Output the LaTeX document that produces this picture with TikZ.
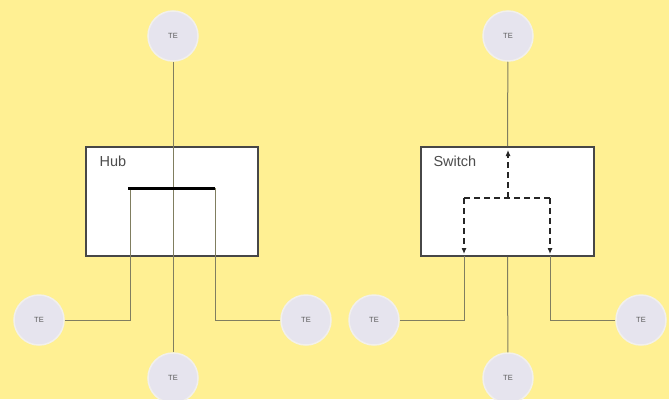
\documentclass[tikz,border=0pt]{standalone}
\usepackage{fontspec}
\setmainfont{Liberation Sans}
\usetikzlibrary{arrows.meta}
\definecolor{bg}{HTML}{FFF093}
\definecolor{tefill}{HTML}{E6E4EE}
\definecolor{teline}{HTML}{F2F0EC}
\definecolor{wire}{HTML}{807E60}
\tikzset{
  te/.style={circle,minimum size=50pt,inner sep=0pt,fill=tefill,draw=teline,line width=1.5pt,font=\fontsize{7.5}{7.5}\selectfont,text=black!65},
  devbox/.style={draw=black!72,line width=1.6pt,fill=white},
  wireline/.style={draw=wire,line width=1pt},
  flow/.style={draw=black!85,line width=1.1pt,dash pattern=on 6pt off 4pt,-{Latex[length=6pt,width=5pt]}},
  flowline/.style={draw=black!85,line width=1.1pt,dash pattern=on 6pt off 4pt},
  lbl/.style={anchor=west,font=\fontsize{14.5}{14.5}\selectfont,text=black!70}
}
\begin{document}
\begin{tikzpicture}[x=1pt,y=-1pt]
\fill[bg] (0,0) rectangle (669,399);
\useasboundingbox (0,0) rectangle (669,399);
% ---------- Hub ----------
\node[devbox,minimum width=172pt,minimum height=109pt,inner sep=0pt] (hub) at (172,201.5) {};
\node[lbl] (hublbl) at (96,161) {Hub};
\node[te] (ht) at (173,36) {TE};
\node[te] (hb) at (173,378) {TE};
\node[te] (hl) at (39,320) {TE};
\node[te] (hr) at (306,320) {TE};
\coordinate (hbarl) at (128,188);
\coordinate (hbarr) at (215,188);
\draw[wireline] (ht) -- (hb);
\draw[wireline] (hl) -| (130,188);
\draw[wireline] (hr) -| (hbarr);
\draw[black,line width=3pt] (hbarl) -- (hbarr);
% ---------- Switch ----------
\node[devbox,minimum width=173pt,minimum height=109pt,inner sep=0pt] (sw) at (507.5,201.5) {};
\node[lbl] (swlbl) at (430,161) {Switch};
\node[te] (st) at (508,36) {TE};
\node[te] (sb) at (508,378) {TE};
\node[te] (sl) at (374,320) {TE};
\node[te] (sr) at (641,320) {TE};
\draw[wireline] (st) -- (sw.north);
\draw[wireline] (sw.south) -- (sb);
\coordinate (swl) at (464,256);
\coordinate (swr) at (550,256);
\draw[wireline] (sl) -| (swl);
\draw[wireline] (sr) -| (swr);
\coordinate (jc) at (508,198);
\coordinate (jl) at (464,198);
\coordinate (jr) at (550,198);
\draw[flow] (jc) -- (508,150);
\draw[flowline] (jl) -- (jr);
\draw[flow] (jl) -- (464,254);
\draw[flow] (jr) -- (550,254);
\end{tikzpicture}
\end{document}
